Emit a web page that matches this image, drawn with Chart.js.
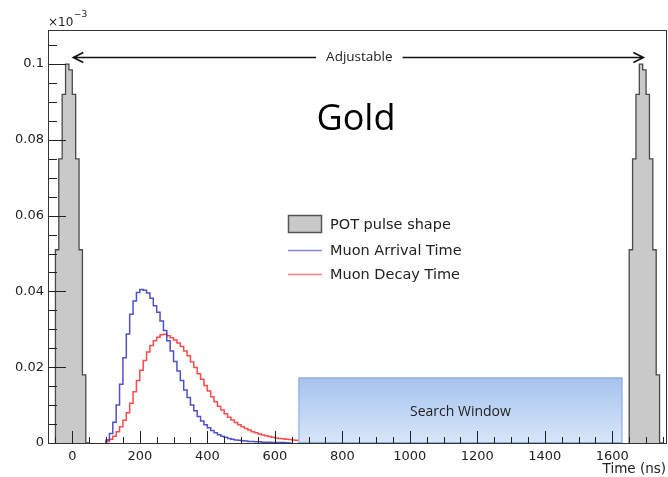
<!DOCTYPE html>
<html><head><meta charset="utf-8">
<script src="https://cdn.jsdelivr.net/npm/chart.js@4.4.0/dist/chart.umd.min.js"></script>
<style>html,body{margin:0;padding:0;background:#fff;}#wrap{width:668px;height:477px;}</style>
</head><body><div id="wrap"><canvas id="c" width="668" height="477"></canvas></div>
<script>
// ---- data ----
const xTickLabels = [0, 200, 400, 600, 800, 1000, 1200, 1400, 1600];
const yTickValues = [0, 0.02, 0.04, 0.06, 0.08, 0.1];
const yTickLabels = ['0', '0.02', '0.04', '0.06', '0.08', '0.1'];

const potBinWidth = 10;
const potLeftStart = -50;
const potRightStart = 1650;
const potValues = [0.018, 0.051, 0.075, 0.092, 0.100, 0.0985, 0.092, 0.075, 0.051, 0.018];

const muonBinStart = 100;
const muonBinWidth = 10;
const arrivalValues = [
  0.0002, 0.0008, 0.0025, 0.0055, 0.0100, 0.0155, 0.0225, 0.0288, 0.0340, 0.0375,
  0.0397, 0.0405, 0.0403, 0.0396, 0.0382, 0.0362, 0.0345, 0.0322, 0.0297, 0.0270,
  0.0243, 0.0215, 0.0190, 0.0165, 0.0140, 0.0120, 0.0100, 0.0085, 0.0070, 0.0058,
  0.0048, 0.0040, 0.0033, 0.0027, 0.0022, 0.0018, 0.0015, 0.0012, 0.0010, 0.0008,
  0.0007, 0.0006, 0.0005, 0.0004, 0.0004, 0.0003, 0.0003, 0.0002, 0.0002, 0.0002,
  0.0001, 0.0001, 0.0001, 0.0001, 0.00005
];
const decayValues = [
  0.0001, 0.0004, 0.0010, 0.0018, 0.0030, 0.0043, 0.0060, 0.0080, 0.0105, 0.0135,
  0.0165, 0.0192, 0.0218, 0.0240, 0.0257, 0.0270, 0.0279, 0.0286, 0.0287, 0.0283,
  0.0278, 0.0272, 0.0264, 0.0255, 0.0243, 0.0230, 0.0214, 0.0199, 0.0183, 0.0168,
  0.0152, 0.0137, 0.0122, 0.0109, 0.0097, 0.0087, 0.0077, 0.0068, 0.0061, 0.0054,
  0.0048, 0.0043, 0.0038, 0.0034, 0.0030, 0.0027, 0.0024, 0.0021, 0.0019, 0.0017,
  0.0015, 0.0013, 0.0012, 0.0011, 0.0010, 0.0009, 0.0008, 0.0007, 0.0006, 0.0006,
  0.0005, 0.0005, 0.0004, 0.0004, 0.0003, 0.0003, 0.0002, 0.0002, 0.0002, 0.0001,
  0.0001, 0.0001
];

const searchWindowRange = [670, 1630];
const searchWindowHeight = 0.0173;
const adjustableRange = [0, 1695];
const adjustableLevel = 0.102;

const legendLabels = ['POT pulse shape', 'Muon Arrival Time', 'Muon Decay Time'];

// ---- helpers ----
function histPoints(start, width, values) {
  const pts = [{x: start, y: 0}];
  values.forEach((v, i) => pts.push({x: start + i * width, y: v}));
  pts.push({x: start + values.length * width, y: 0});
  return pts;
}

const GRAY_FILL = '#c9c9c9', GRAY_LINE = '#4a4a4a';
const BLUE = 'rgba(50,50,190,0.85)', RED = 'rgba(255,55,55,0.9)';
const FONT = '"DejaVu Sans", sans-serif';

const decor = {
  id: 'decor',
  afterDatasetsDraw(chart) {
    const ctx = chart.ctx, xs = chart.scales.x, ys = chart.scales.y, a = chart.chartArea;
    ctx.save();
    // search window
    const x0 = xs.getPixelForValue(searchWindowRange[0]), x1 = xs.getPixelForValue(searchWindowRange[1]);
    const yt = ys.getPixelForValue(searchWindowHeight), yb = ys.getPixelForValue(0);
    const g = ctx.createLinearGradient(0, yt, 0, yb);
    g.addColorStop(0, 'rgba(160,192,238,0.95)');
    g.addColorStop(1, 'rgba(214,228,248,0.95)');
    ctx.fillStyle = g;
    ctx.fillRect(x0, yt, x1 - x0, yb - yt);
    ctx.strokeStyle = 'rgba(130,165,220,0.9)';
    ctx.lineWidth = 1;
    ctx.strokeRect(x0 + 0.5, yt + 0.5, x1 - x0 - 1, yb - yt - 1);
    ctx.fillStyle = '#222';
    ctx.font = '14px "Open Sans", sans-serif';
    ctx.textAlign = 'center'; ctx.textBaseline = 'middle';
    ctx.fillText('Search Window', (x0 + x1) / 2, ys.getPixelForValue(searchWindowHeight * 0.48));

    // ticks
    ctx.strokeStyle = '#222'; ctx.lineWidth = 1;
    ctx.beginPath();
    for (let v = 0; v <= 0.1091; v += 0.005) {
      const y = Math.round(ys.getPixelForValue(v)) + 0.5;
      const major = Math.abs(v / 0.02 - Math.round(v / 0.02)) < 1e-6;
      ctx.moveTo(a.left, y); ctx.lineTo(a.left + (major ? 18 : 9), y);
    }
    for (let v = -50; v <= 1762; v += 50) {
      const x = Math.round(xs.getPixelForValue(v)) + 0.5;
      const major = v % 200 === 0;
      ctx.moveTo(x, a.bottom); ctx.lineTo(x, a.bottom - (major ? 12 : 6));
    }
    ctx.stroke();
    // frame
    ctx.strokeStyle = '#333';
    ctx.strokeRect(a.left + 0.5, a.top + 0.5, a.right - a.left - 1, a.bottom - a.top);

    // exponent label
    ctx.fillStyle = '#222'; ctx.textAlign = 'left'; ctx.textBaseline = 'alphabetic';
    ctx.font = '12px ' + FONT;
    ctx.fillText('\u00d710', 48, 26);
    ctx.font = '9px ' + FONT;
    ctx.fillText('\u22123', 74, 17);

    // Adjustable arrow
    const ax0 = xs.getPixelForValue(adjustableRange[0]), ax1 = xs.getPixelForValue(adjustableRange[1]);
    const ay = Math.round(ys.getPixelForValue(adjustableLevel)) + 0.5;
    const mid = (ax0 + ax1) / 2;
    ctx.font = '13.5px "Open Sans", sans-serif';
    const tw = ctx.measureText('Adjustable').width;
    ctx.strokeStyle = '#111'; ctx.lineWidth = 1.6;
    ctx.beginPath();
    ctx.moveTo(ax0 + 2, ay); ctx.lineTo(mid - tw / 2 - 9, ay);
    ctx.moveTo(mid + tw / 2 + 11, ay); ctx.lineTo(ax1 - 2, ay);
    ctx.moveTo(ax0 + 11, ay - 5); ctx.lineTo(ax0 + 1, ay); ctx.lineTo(ax0 + 11, ay + 5);
    ctx.moveTo(ax1 - 11, ay - 5); ctx.lineTo(ax1 - 1, ay); ctx.lineTo(ax1 - 11, ay + 5);
    ctx.stroke();
    ctx.fillStyle = '#222'; ctx.textAlign = 'center'; ctx.textBaseline = 'middle';
    ctx.fillText('Adjustable', mid + 1, ay);

    // Gold
    ctx.font = '36px "Open Sans", sans-serif';
    ctx.fillStyle = '#000';
    ctx.fillText('Gold', 356, 120);

    // legend
    ctx.textAlign = 'left';
    ctx.font = '14.5px ' + FONT;
    ctx.fillStyle = GRAY_FILL; ctx.fillRect(288, 215, 34, 18);
    ctx.strokeStyle = '#555'; ctx.lineWidth = 1.5; ctx.strokeRect(288.5, 215.5, 33, 17);
    ctx.lineWidth = 1.5;
    ctx.strokeStyle = 'rgba(120,120,215,0.9)';
    ctx.beginPath(); ctx.moveTo(288, 250.5); ctx.lineTo(322, 250.5); ctx.stroke();
    ctx.strokeStyle = 'rgba(255,120,120,0.95)';
    ctx.beginPath(); ctx.moveTo(288, 274.5); ctx.lineTo(322, 274.5); ctx.stroke();
    ctx.fillStyle = '#222';
    ctx.fillText(legendLabels[0], 330, 225);
    ctx.fillText(legendLabels[1], 330, 251);
    ctx.fillText(legendLabels[2], 330, 275);

    // axis title
    ctx.font = '13.5px ' + FONT;
    ctx.textAlign = 'right';
    ctx.fillText('Time (ns)', 666, 469);
    ctx.restore();
  }
};

new Chart(document.getElementById('c'), {
  type: 'line',
  data: {
    datasets: [
      {data: histPoints(potLeftStart, potBinWidth, potValues), stepped: 'after', fill: 'origin',
       backgroundColor: GRAY_FILL, borderColor: GRAY_LINE, borderWidth: 1.3, pointRadius: 0},
      {data: histPoints(potRightStart, potBinWidth, potValues), stepped: 'after', fill: 'origin',
       backgroundColor: GRAY_FILL, borderColor: GRAY_LINE, borderWidth: 1.3, pointRadius: 0},
      {data: histPoints(muonBinStart, muonBinWidth, arrivalValues), stepped: 'after', fill: false,
       borderColor: BLUE, borderWidth: 1.5, pointRadius: 0},
      {data: histPoints(muonBinStart, muonBinWidth, decayValues), stepped: 'after', fill: false,
       borderColor: RED, borderWidth: 1.5, pointRadius: 0}
    ]
  },
  options: {
    responsive: false, animation: false, events: [],
    layout: {padding: {top: 30, right: 1, left: 0, bottom: 0}},
    plugins: {legend: {display: false}, tooltip: {enabled: false}},
    scales: {
      x: {
        type: 'linear', min: -72, max: 1762,
        grid: {display: false, drawTicks: false}, border: {display: false},
        afterBuildTicks: s => { s.ticks = xTickLabels.map(v => ({value: v})); },
        afterFit: s => { s.height = 34; },
        ticks: {autoSkip: false, maxRotation: 0, padding: 6, color: '#222',
                font: {family: 'DejaVu Sans', size: 13}, callback: v => String(v)}
      },
      y: {
        type: 'linear', min: 0, max: 0.109,
        grid: {display: false, drawTicks: false}, border: {display: false},
        afterBuildTicks: s => { s.ticks = yTickValues.map(v => ({value: v})); },
        afterFit: s => { s.width = 48; },
        ticks: {autoSkip: false, padding: 4, color: '#222',
                font: {family: 'DejaVu Sans', size: 13},
                callback: v => yTickLabels[yTickValues.findIndex(t => Math.abs(t - v) < 1e-9)]}
      }
    }
  },
  plugins: [decor]
});
</script></body></html>
